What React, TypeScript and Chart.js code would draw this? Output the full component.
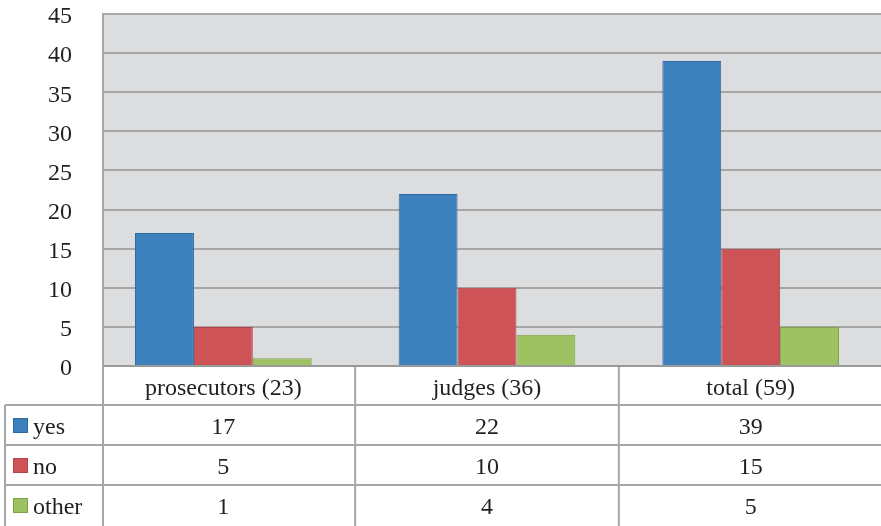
import React, { useEffect, useRef } from "react";
import { Chart, registerables } from "chart.js";

Chart.register(...registerables);

const categories = ["prosecutors (23)", "judges (36)", "total (59)"];
const seriesNames = ["yes", "no", "other"];
const yesValues = [17, 22, 39];
const noValues = [5, 10, 15];
const otherValues = [1, 4, 5];
const yTicks = [0, 5, 10, 15, 20, 25, 30, 35, 40, 45];

const FONT = "'Liberation Serif', 'DejaVu Serif', serif";
const FONT_SIZE = 24;
const TEXT = "#231f20";
const LINE = "#a6a6a6";
const fills = ["#3c80be", "#cd5356", "#9ec262"];
const borders = ["#2f6a9f", "#b24548", "#7f9f4b"];

export default function App() {
  const ref = useRef<HTMLCanvasElement | null>(null);

  useEffect(() => {
    document.body.style.margin = "0";
    const canvas = ref.current;
    if (!canvas) return;
    const allValues = [yesValues, noValues, otherValues];

    const tablePlugin = {
      id: "tablePlugin",
      beforeDraw(chart: any) {
        const { ctx, chartArea } = chart;
        ctx.save();
        ctx.fillStyle = "#dcdddf";
        ctx.fillRect(chartArea.left, chartArea.top, chartArea.right - chartArea.left, chartArea.bottom - chartArea.top);
        ctx.restore();
      },
      afterDraw(chart: any) {
        const { ctx, chartArea } = chart;
        const xs = chart.scales.x;
        const W = chart.width;
        const top = chartArea.bottom;
        const rowH = 40;
        const headerBottom = top + 39;
        const rowTops = [headerBottom, headerBottom + rowH, headerBottom + 2 * rowH];
        const leftCol = 5;
        ctx.save();
        ctx.strokeStyle = LINE;
        ctx.lineWidth = 2;
        ctx.beginPath();
        rowTops.forEach((y) => {
          ctx.moveTo(leftCol, y);
          ctx.lineTo(W, y);
        });
        ctx.moveTo(leftCol, headerBottom);
        ctx.lineTo(leftCol, chart.height);
        const bounds: number[] = [chartArea.left];
        for (let i = 0; i < categories.length - 1; i++) {
          bounds.push(xs.getPixelForValue(i + 0.5));
        }
        bounds.forEach((x) => {
          ctx.moveTo(x, top);
          ctx.lineTo(x, chart.height);
        });
        ctx.stroke();

        ctx.beginPath();
        ctx.strokeStyle = "#9a9a9a";
        ctx.moveTo(chartArea.left, top);
        ctx.lineTo(W, top);
        ctx.stroke();

        ctx.fillStyle = TEXT;
        ctx.font = `${FONT_SIZE}px ${FONT}`;
        ctx.textAlign = "center";
        ctx.textBaseline = "middle";
        categories.forEach((c, i) => {
          const cx = xs.getPixelForValue(i);
          ctx.fillText(c, cx, (top + headerBottom) / 2 + 3);
          allValues.forEach((vals, s) => {
            const yc = rowTops[s] + rowH / 2;
            ctx.fillText(String(vals[i]), cx, yc + 3);
          });
        });
        ctx.textAlign = "left";
        seriesNames.forEach((n, s) => {
          const yc = rowTops[s] + rowH / 2;
          ctx.fillStyle = fills[s];
          ctx.fillRect(13.5, yc - 6.5, 14, 14);
          ctx.strokeStyle = borders[s];
          ctx.lineWidth = 1;
          ctx.strokeRect(13.5, yc - 6.5, 14, 14);
          ctx.fillStyle = TEXT;
          ctx.fillText(n, 33, yc + 3);
        });
        ctx.restore();
      },
    };

    const makeData = (vals: number[]) => vals.map((v, i) => ({ x: i, y: v }));

    const chart = new Chart(canvas, {
      type: "bar",
      data: {
        datasets: seriesNames.map((n, s) => ({
          label: n,
          data: makeData(allValues[s]),
          backgroundColor: fills[s],
          borderColor: borders[s],
          borderWidth: 1,
          categoryPercentage: 0.67,
          barPercentage: 1.0,
        })),
      },
      options: {
        animation: false,
        responsive: false,
        layout: { padding: { top: 14, bottom: 160, left: 0, right: 0 } },
        plugins: { legend: { display: false }, tooltip: { enabled: false } },
        scales: {
          x: {
            type: "linear",
            display: false,
            min: -0.5 + 11.5 / 264,
            max: 2.5 - 1.5 / 264,
            offset: false,
            afterBuildTicks(scale: any) {
              scale.ticks = categories.map((_, i) => ({ value: i }));
            },
          },
          y: {
            min: 0,
            max: 45,
            afterFit(scale: any) {
              scale.width = 103;
              scale.paddingTop = 0;
              scale.paddingBottom = 0;
            },
            afterBuildTicks(scale: any) {
              scale.ticks = yTicks.map((v) => ({ value: v }));
            },
            ticks: {
              padding: 31,
              labelOffset: 3,
              color: TEXT,
              font: { family: FONT, size: FONT_SIZE },
            },
            grid: {
              color: LINE,
              lineWidth: 2,
              drawTicks: false,
            },
            border: { display: true, color: LINE, width: 2 },
          },
        },
      },
      plugins: [tablePlugin],
    } as any);

    return () => chart.destroy();
  }, []);

  return (
    <div style={{ position: "absolute", left: 0, top: 0, width: 881, height: 526 }}>
      <canvas ref={ref} width={881} height={526} style={{ width: 881, height: 526, display: "block" }} />
    </div>
  );
}
